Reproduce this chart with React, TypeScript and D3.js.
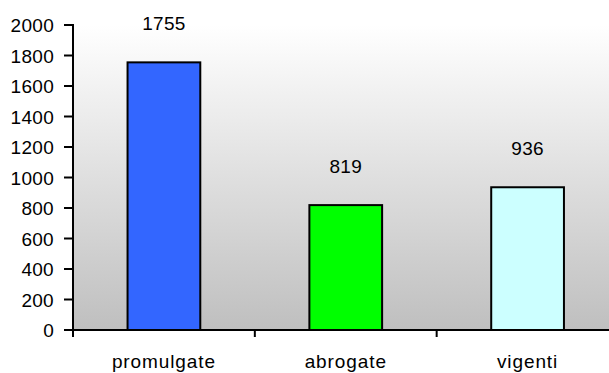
import React from "react";
import * as d3 from "d3";

const categories = ["promulgate", "abrogate", "vigenti"];
const values = [1755, 819, 936];
const barColors = ["#3366FF", "#00FF00", "#CCFFFF"];
const yTicks = [0, 200, 400, 600, 800, 1000, 1200, 1400, 1600, 1800, 2000];

const W = 609;
const H = 373;
const left = 73;
const right = 618.5;
const top = 25;
const bottom = 330;
const font = "'Liberation Sans', Arial, sans-serif";

export default function App() {
  const x = d3
    .scaleBand<string>()
    .domain(categories)
    .range([left, right])
    .paddingInner(0.6)
    .paddingOuter(0.3);
  const y = d3.scaleLinear().domain([0, 2000]).range([bottom, top]);
  const step = x.step();
  const dividers = d3.range(categories.length + 1).map((i) => left + i * step);

  return (
    <svg
      width={W}
      height={H}
      style={{ position: "absolute", left: 0, top: 0, background: "#fff" }}
      fontFamily={font}
    >
      <defs>
        <linearGradient id="plotBg" x1="0" y1="0" x2="0" y2="1">
          <stop offset="0" stopColor="#ffffff" />
          <stop offset="1" stopColor="#bfbfbf" />
        </linearGradient>
      </defs>
      <rect x={left} y={top} width={right - left} height={bottom - top} fill="url(#plotBg)" />

      {categories.map((c, i) => (
        <rect
          key={c}
          x={x(c)}
          y={y(values[i])}
          width={x.bandwidth()}
          height={bottom - y(values[i])}
          fill={barColors[i]}
          stroke="#000"
          strokeWidth={2}
        />
      ))}

      {categories.map((c, i) => (
        <text
          key={c + "-v"}
          x={(x(c) as number) + x.bandwidth() / 2}
          y={y(values[i]) - 32}
          textAnchor="middle"
          fontSize={19}
          letterSpacing={0.3}
          fill="#000"
        >
          {values[i]}
        </text>
      ))}

      {/* value axis */}
      <line x1={left} x2={left} y1={top - 1} y2={bottom + 1} stroke="#000" strokeWidth={2} />
      {yTicks.map((t) => (
        <g key={t}>
          <line x1={left - 9} x2={left} y1={y(t)} y2={y(t)} stroke="#000" strokeWidth={2} />
          <text
            x={left - 19}
            y={y(t) + 7}
            textAnchor="end"
            fontSize={19}
            letterSpacing={0.3}
            fill="#000"
          >
            {t}
          </text>
        </g>
      ))}

      {/* category axis */}
      <line x1={left - 9} x2={W} y1={bottom} y2={bottom} stroke="#000" strokeWidth={2} />
      {dividers.map((d, i) => (
        <line key={i} x1={d} x2={d} y1={bottom} y2={bottom + 7} stroke="#000" strokeWidth={2} />
      ))}
      {categories.map((c) => (
        <text
          key={c + "-l"}
          x={(x(c) as number) + x.bandwidth() / 2}
          y={368}
          textAnchor="middle"
          fontSize={19}
          letterSpacing={0.9}
          fill="#000"
        >
          {c}
        </text>
      ))}
    </svg>
  );
}
